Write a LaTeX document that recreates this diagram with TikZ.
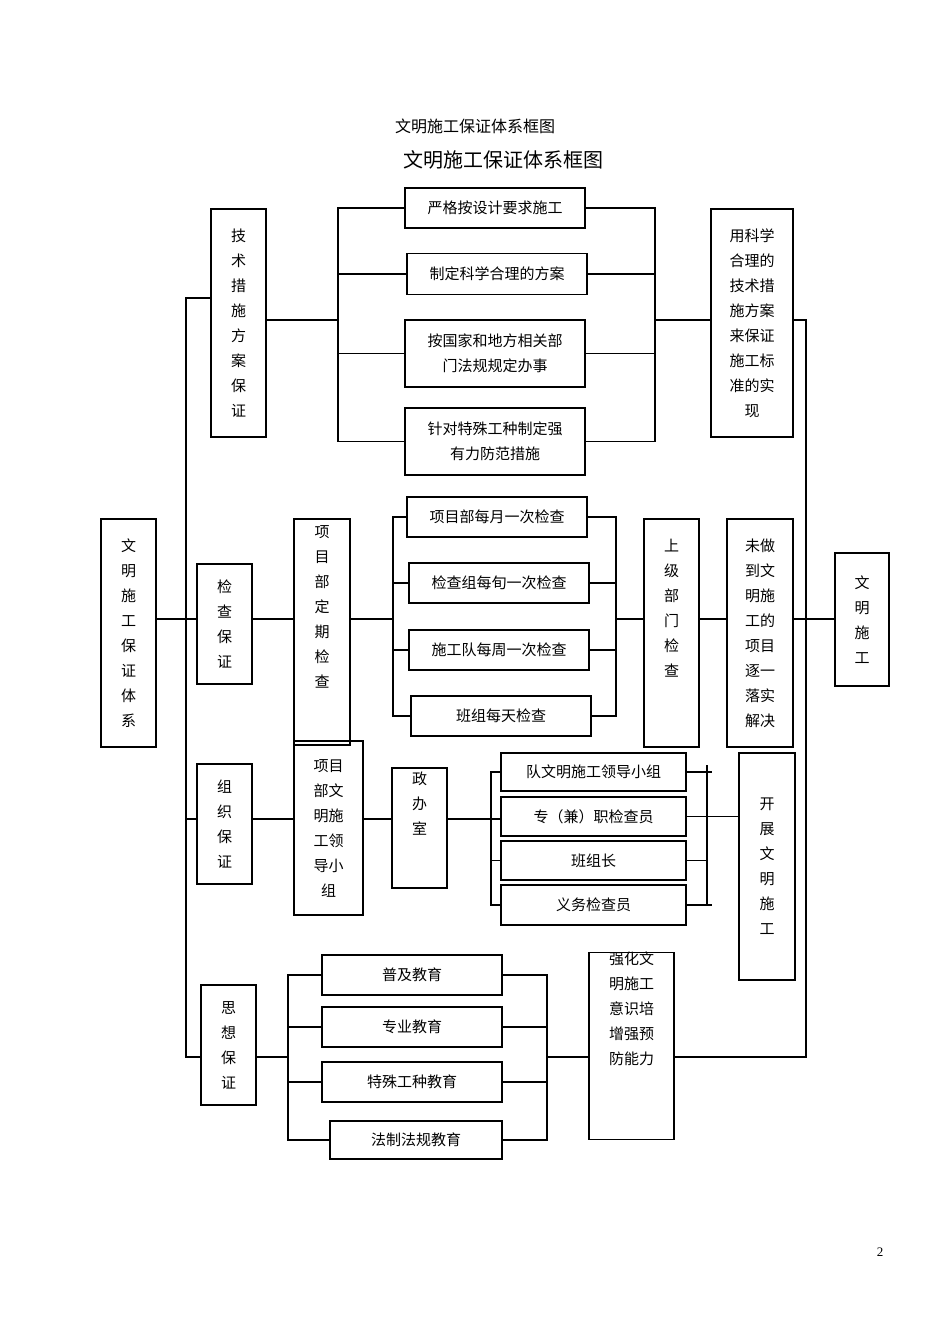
\documentclass[tikz,border=0pt]{standalone}
\usepackage{fontspec}
\setmainfont{Liberation Serif}
\newfontfamily\cjk{Noto Sans CJK SC}
\begin{document}
\begin{tikzpicture}[x=1pt,y=-1pt,
  box/.style={draw,line width=1.1pt,inner sep=0pt,align=center,font=\cjk\fontsize{15}{25}\selectfont},
  ln/.style={line width=1.1pt}]
\useasboundingbox (0,0) rectangle (950,1344);
\node[font=\cjk\fontsize{16}{18}\selectfont] (t1) at (475,126) {文明施工保证体系框图};
\node[font=\cjk\fontsize{20}{22}\selectfont] (t2) at (503,160) {文明施工保证体系框图};
\node[font=\fontsize{13}{14}\selectfont] (pg) at (880,1252) {2};
% boxes
\node[box,minimum width=55,minimum height=228] (tech) at (238.5,323) {技\\术\\措\\施\\方\\案\\保\\证};
\node[box,minimum width=180,minimum height=40] (b1) at (495,208) {严格按设计要求施工};
\node[box,minimum width=180,minimum height=41] (b2) at (497,274) {制定科学合理的方案};
\node[box,minimum width=180,minimum height=67] (b3) at (495,353.5) {按国家和地方相关部\\门法规规定办事};
\node[box,minimum width=180,minimum height=67] (b4) at (495,441.5) {针对特殊工种制定强\\有力防范措施};
\node[box,minimum width=82,minimum height=228] (rt) at (752,323) {用科学\\合理的\\技术措\\施方案\\来保证\\施工标\\准的实\\现};
\node[box,minimum width=55,minimum height=228] (main) at (128.5,633) {文\\明\\施\\工\\保\\证\\体\\系};
\node[box,minimum width=55,minimum height=120] (jc) at (224.5,624) {检\\查\\保\\证};
\node[box,minimum width=56,minimum height=226] (xm) at (322,632) {项\\目\\部\\定\\期\\检\\查\\[25pt]};
\node[box,minimum width=180,minimum height=40] (c1) at (497,517) {项目部每月一次检查};
\node[box,minimum width=180,minimum height=40] (c2) at (499,583) {检查组每旬一次检查};
\node[box,minimum width=180,minimum height=40] (c3) at (499,650) {施工队每周一次检查};
\node[box,minimum width=180,minimum height=40] (c4) at (501,716) {班组每天检查};
\node[box,minimum width=55,minimum height=228] (sj) at (671.5,633) {上\\级\\部\\门\\检\\查\\[25pt]};
\node[box,minimum width=66,minimum height=228] (wz) at (760,633) {未做\\到文\\明施\\工的\\项目\\逐一\\落实\\解决};
\node[box,minimum width=54,minimum height=133] (wm) at (862,619.5) {文\\明\\施\\工};
\node[box,minimum width=55,minimum height=120] (zz) at (224.5,824) {组\\织\\保\\证};
\node[box,minimum width=69,minimum height=174] (xl) at (328.5,828) {项目\\部文\\明施\\工领\\导小\\组};
\node[box,minimum width=55,minimum height=120] (zb) at (419.5,828) {政\\办\\室\\[25pt]};
\node[box,minimum width=185,minimum height=38] (d1) at (593.5,772) {队文明施工领导小组};
\node[box,minimum width=185,minimum height=39] (d2) at (593.5,816.5) {专（兼）职检查员};
\node[box,minimum width=185,minimum height=39] (d3) at (593.5,860.5) {班组长};
\node[box,minimum width=185,minimum height=40] (d4) at (593.5,905) {义务检查员};
\node[box,minimum width=56,minimum height=227] (kz) at (767,866.5) {开\\展\\文\\明\\施\\工};
\node[box,minimum width=55,minimum height=120] (sx) at (228.5,1045) {思\\想\\保\\证};
\node[box,minimum width=180,minimum height=40] (e1) at (412,975) {普及教育};
\node[box,minimum width=180,minimum height=40] (e2) at (412,1027) {专业教育};
\node[box,minimum width=180,minimum height=40] (e3) at (412,1082) {特殊工种教育};
\node[box,minimum width=172,minimum height=38] (e4) at (416,1140) {法制法规教育};
\node[box,minimum width=85,minimum height=174] (qh) at (631.5,1046) {强化文\\明施工\\意识培\\增强预\\防能力\\[50pt]};
% coordinates
\coordinate (sT) at (186,298); \coordinate (sB) at (186,1057);
\coordinate (rT) at (806,320); \coordinate (rB) at (806,1057);
% spine left
\draw[ln] (tech.west |- sT) -- (sT) -- (sB) -- (sx.west |- sB);
\draw[ln] (main.east |- 0,619) -- (jc.west |- 0,619);
\draw[ln] (sT |- 0,819) -- (zz.west |- 0,819);
% spine right
\draw[ln] (rt.east |- rT) -- (rT) -- (rB) -- (qh.east |- rB);
\draw[ln] (wz.east |- 0,619) -- (wm.west |- 0,619);
% tech group
\coordinate (L1) at (338,209); \coordinate (R1) at (655,209);
\draw[ln] (tech.east |- 0,320) -- (L1 |- 0,320);
\draw[ln] (b1.west) -| (L1 |- b4.west) -- (b4.west);
\draw[ln] (L1 |- b2.west) -- (b2.west);
\draw[ln] (L1 |- b3.west) -- (b3.west);
\draw[ln] (b1.east) -| (R1 |- b4.east) -- (b4.east);
\draw[ln] (R1 |- b2.east) -- (b2.east);
\draw[ln] (R1 |- b3.east) -- (b3.east);
\draw[ln] (R1 |- 0,320) -- (rt.west |- 0,320);
% check group
\coordinate (L2) at (393,519); \coordinate (R2) at (616,519);
\draw[ln] (jc.east |- 0,619) -- (xm.west |- 0,619);
\draw[ln] (xm.east |- 0,619) -- (L2 |- 0,619);
\draw[ln] (c1.west) -| (L2 |- c4.west) -- (c4.west);
\draw[ln] (L2 |- c2.west) -- (c2.west);
\draw[ln] (L2 |- c3.west) -- (c3.west);
\draw[ln] (c1.east) -| (R2 |- c4.east) -- (c4.east);
\draw[ln] (R2 |- c2.east) -- (c2.east);
\draw[ln] (R2 |- c3.east) -- (c3.east);
\draw[ln] (R2 |- 0,619) -- (sj.west |- 0,619);
\draw[ln] (sj.east |- 0,619) -- (wz.west |- 0,619);
% organisation group
\coordinate (L3) at (491,772); \coordinate (R3) at (707,765);
\draw[ln] (zz.east |- 0,819) -- (xl.west |- 0,819);
\draw[ln] (xl.east |- 0,819) -- (zb.west |- 0,819);
\draw[ln] (zb.east |- 0,819) -- (d2.west |- 0,819);
\draw[ln] (d1.west) -| (L3 |- d4.west) -- (d4.west);
\draw[ln] (L3 |- d3.west) -- (d3.west);
\draw[ln] (d1.east) -- ([xshift=5pt]R3 |- d1.east);
\draw[ln] (R3) -- (R3 |- d4.east);
\draw[ln] (d3.east) -- (R3 |- d3.east);
\draw[ln] (d4.east) -- ([xshift=5pt]R3 |- d4.east);
\draw[ln] (d2.east) -- (kz.west |- d2.east);
% education group
\coordinate (L4) at (288,975); \coordinate (R4) at (547,975);
\draw[ln] (sx.east |- sB) -- (L4 |- sB);
\draw[ln] (e1.west) -| (L4 |- e4.west) -- (e4.west);
\draw[ln] (L4 |- e2.west) -- (e2.west);
\draw[ln] (L4 |- e3.west) -- (e3.west);
\draw[ln] (e1.east) -| (R4 |- e4.east) -- (e4.east);
\draw[ln] (R4 |- e2.east) -- (e2.east);
\draw[ln] (R4 |- e3.east) -- (e3.east);
\draw[ln] (R4 |- sB) -- (qh.west |- sB);
\end{tikzpicture}
\end{document}
